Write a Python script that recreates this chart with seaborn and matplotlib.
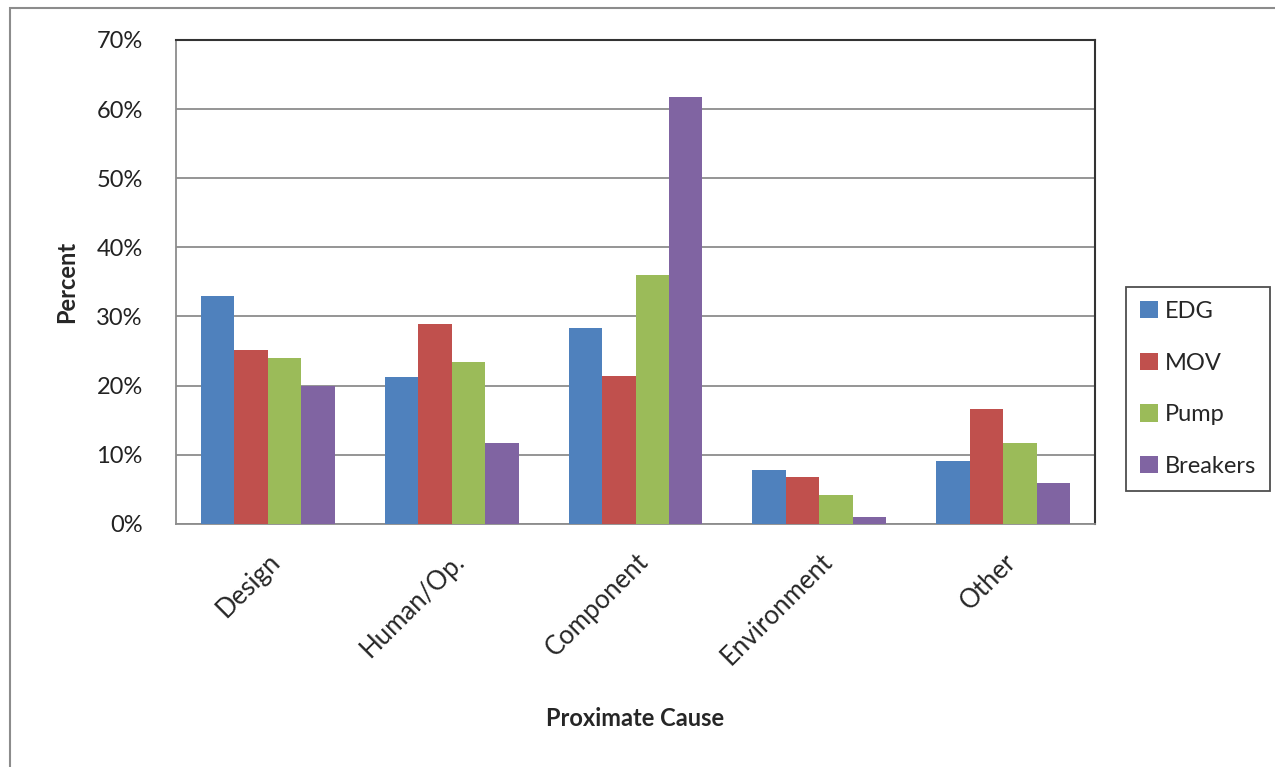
import numpy as np
import pandas as pd
import matplotlib
matplotlib.use("Agg")
import matplotlib.pyplot as plt
import seaborn as sns
from matplotlib.patches import Rectangle
from matplotlib.ticker import FuncFormatter

# ===============================
# Data
# ===============================
causes = ["Design", "Human/Op.", "Component", "Environment", "Other"]
systems = ["EDG", "MOV", "Pump", "Breakers"]

edg = [32.9, 21.2, 28.3, 7.8, 9.1]
mov = [25.2, 28.9, 21.4, 6.7, 16.6]
pump = [24.0, 23.4, 36.0, 4.2, 11.7]
breakers = [19.9, 11.7, 61.8, 0.9, 5.9]

colors = ["#4F81BD", "#C0504D", "#9BBB59", "#8064A2"]

df = pd.DataFrame({
    "cause": np.tile(causes, 4),
    "system": np.repeat(systems, len(causes)),
    "percent": edg + mov + pump + breakers,
})

# ===============================
# Plot
# ===============================
sns.set_style("white")
plt.rcParams["font.family"] = ["Lato", "DejaVu Sans"]

fig = plt.figure(figsize=(12.75, 7.67), dpi=100)
ax = fig.add_axes([176 / 1275, 1 - 523.7 / 767, (1095 - 176) / 1275, (523.7 - 40) / 767])

sns.barplot(
    data=df, x="cause", y="percent", hue="system",
    order=causes, hue_order=systems, palette=colors,
    width=4 / 5.5, gap=0, saturation=1, ax=ax, zorder=3,
    edgecolor="none",
)

ax.set_xlim(-0.5, 4.5)
ax.set_ylim(0, 70)
ax.set_yticks(np.arange(0, 71, 10))
ax.yaxis.set_major_formatter(FuncFormatter(lambda v, _: f"{v:.0f}%"))
ax.grid(axis="y", color="#8C8C8C", linewidth=1.3, zorder=0)
ax.tick_params(axis="y", length=0, labelsize=17, pad=24, labelcolor="#222222")

ax.set_xticks(range(len(causes)))
ax.set_xticklabels(causes, rotation=45, ha="right", rotation_mode="anchor", fontsize=18.5)
ax.tick_params(axis="x", which="major", length=0, pad=18)
ax.set_xticks(np.arange(-0.5, 4.6, 1), minor=True)
ax.tick_params(axis="x", which="minor", direction="inout", length=13, width=1.2, color="#8C8C8C")

for s in ["left", "bottom"]:
    ax.spines[s].set_color("#8C8C8C")
    ax.spines[s].set_linewidth(1.3)
for s in ["top", "right"]:
    ax.spines[s].set_color("#333333")
    ax.spines[s].set_linewidth(1.5)
    ax.spines[s].set_visible(True)

ax.set_xlabel("Proximate Cause", fontsize=17, fontweight="bold", labelpad=27)
ax.set_ylabel("Percent", fontsize=17, fontweight="bold", labelpad=13)

leg = ax.legend(
    loc="center left", bbox_to_anchor=(1126 / 1275, 1 - 389 / 767),
    bbox_transform=fig.transFigure, title=None, fontsize=17,
    frameon=True, fancybox=False, edgecolor="#222222",
    handlelength=0.75, handleheight=0.75, handletextpad=0.3,
    labelspacing=1.3, borderpad=0.6, borderaxespad=0,
)
leg.get_frame().set_linewidth(1.3)

# outer chart border (left and top edges visible)
fig.patches.append(Rectangle((10 / 1275, -0.05), 1.2, 1 - 8 / 767 + 0.05,
                             transform=fig.transFigure, fill=False,
                             edgecolor="#8C8C8C", linewidth=1.5))

plt.savefig("out.png", dpi=100)
